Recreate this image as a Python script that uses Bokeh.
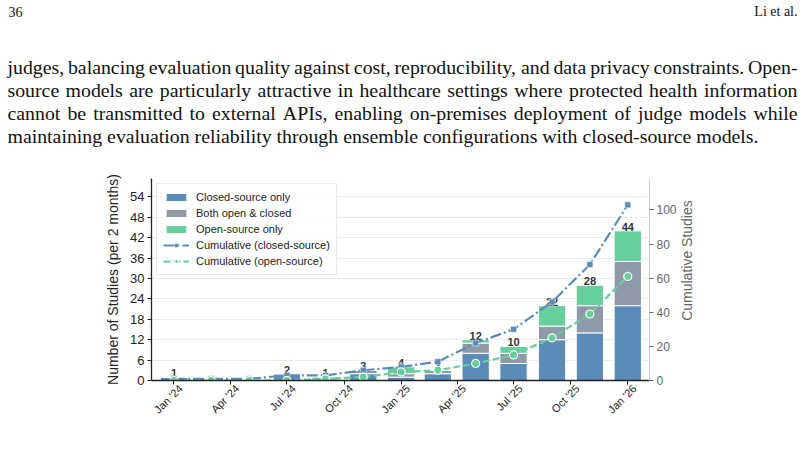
import math
import pandas as pd
from bokeh.plotting import figure
from bokeh.layouts import column, row
from bokeh.models import (ColumnDataSource, Range1d, LinearAxis,
                          FixedTicker, DatetimeTickFormatter)
from bokeh.core.properties import value
from bokeh.embed import file_html
from bokeh.resources import INLINE

# ---------------- data ----------------
periods = ["2024-01-01", "2024-03-01", "2024-05-01", "2024-07-01", "2024-09-01",
           "2024-11-01", "2025-01-01", "2025-03-01", "2025-05-01", "2025-07-01",
           "2025-09-01", "2025-11-01", "2026-01-01"]
closed_only = [1, 0, 0, 2, 0, 2, 1, 2, 8, 5, 12, 14, 22]
both_open_closed = [0, 0, 0, 0, 0, 1, 1, 1, 3, 3, 4, 8, 13]
open_only = [0, 0, 0, 0, 1, 0, 2, 0, 1, 2, 6, 6, 9]
cum_closed = [1, 1, 1, 3, 3, 6, 8, 11, 22, 30, 46, 68, 103]
cum_open = [0, 0, 0, 0, 1, 2, 5, 6, 10, 15, 25, 39, 61]
tick_dates = ["2024-01-01", "2024-04-01", "2024-07-01", "2024-10-01", "2025-01-01",
              "2025-04-01", "2025-07-01", "2025-10-01", "2026-01-01"]
left_ticks = [0, 6, 12, 18, 24, 30, 36, 42, 48, 54]
right_ticks = [0, 20, 40, 60, 80, 100]
series_names = ["Closed-source only", "Both open & closed", "Open-source only"]
left_title = "Number of Studies (per 2 months)"
right_title = "Cumulative Studies"

header_left = "36"
header_right = "Li et al."
paragraph_lines = [
    "judges, balancing evaluation quality against cost, reproducibility, and data privacy constraints. Open-",
    "source models are particularly attractive in healthcare settings where protected health information",
    "cannot be transmitted to external APIs, enabling on-premises deployment of judge models while",
    "maintaining evaluation reliability through ensemble configurations with closed-source models.",
]

# ---------------- styles / layout ----------------
C_BLUE = "#5b8cb8"
C_GRAY = "#8e9aa8"
C_GREEN = "#67cf9c"
SANS = "Liberation Sans"
SERIF = "Liberation Serif"

W, H = 805, 453
TOP_H = 160                    # page text band
CH_W = 680                     # chart figure width
FL, FR, FT, FB = 151, 649, 178, 380   # chart frame edges (page px)

DAY = 86400000.0
LABEL_SHIFT = 11 * DAY         # centre the rotated tick labels on their ticks
dates = pd.to_datetime(periods)
t_first = pd.Timestamp("2024-01-01").value / 1e6
t_last = pd.Timestamp("2026-01-01").value / 1e6
X0 = t_first - 36.2 * DAY
X1 = t_last + 35.0 * DAY
Y0, Y1 = 0.0, 59.4
RY1 = 118.45

totals = [a + b + c for a, b, c in zip(closed_only, both_open_closed, open_only)]

src = ColumnDataSource(dict(x=dates, closed=closed_only, both=both_open_closed,
                            open=open_only, cc=cum_closed, co=cum_open))
lab = ColumnDataSource(dict(x=[d for d, t in zip(dates, totals) if t > 0],
                            y=[t for t in totals if t > 0],
                            t=[str(t) for t in totals if t > 0]))

# ---------------- chart ----------------
p = figure(width=CH_W, height=H - TOP_H, output_backend="svg", toolbar_location=None,
           x_axis_type="datetime", x_range=Range1d(X0, X1), y_range=Range1d(Y0, Y1),
           min_border_left=FL, min_border_right=CH_W - FR, min_border_top=FT - TOP_H,
           min_border_bottom=H - FB, outline_line_color=None,
           background_fill_color="white", border_fill_color="white")
p.extra_y_ranges = {"cum": Range1d(0, RY1)}

p.vbar_stack(["closed", "both", "open"], x="x", width=44 * DAY, source=src,
             color=[C_BLUE, C_GRAY, C_GREEN], line_color="white", line_width=1,
             legend_label=series_names)

p.text(x="x", y="y", text="t", source=lab, text_align="center",
       text_baseline="alphabetic", y_offset=-4, text_font=value(SANS),
       text_font_size="11px", text_font_style="bold", text_color="#333333")

p.line(x="x", y="cc", source=src, y_range_name="cum", line_color=C_BLUE,
       line_width=2.2, line_dash="11 3 2 3", legend_label="Cumulative (closed-source)")
p.scatter(x="x", y="cc", source=src, y_range_name="cum", marker="square", size=6,
          fill_color=C_BLUE, line_color="white", line_width=0.5,
          legend_label="Cumulative (closed-source)")
p.line(x="x", y="co", source=src, y_range_name="cum", line_color=C_GREEN,
       line_width=2.2, line_dash="7 3", legend_label="Cumulative (open-source)")
p.scatter(x="x", y="co", source=src, y_range_name="cum", marker="circle", size=8,
          fill_color=C_GREEN, line_color="white", line_width=1.2,
          legend_label="Cumulative (open-source)")

tick_ms = [pd.Timestamp(t).value / 1e6 for t in tick_dates]
fmt = "%b '%y"

# x axis: tick marks at the quarter starts (minor ticks), rotated labels
# (major ticks, nudged so the rotated text is centred under each tick mark)
xa = p.xaxis[0]
xa.ticker = FixedTicker(ticks=[t + LABEL_SHIFT for t in tick_ms], minor_ticks=tick_ms)
xa.formatter = DatetimeTickFormatter(years=fmt, months=fmt, days=fmt, hours=fmt,
                                     hourmin=fmt, minutes=fmt, minsec=fmt,
                                     seconds=fmt, milliseconds=fmt,
                                     microseconds=fmt)
xa.major_label_orientation = math.pi / 4
xa.major_label_text_font = SANS
xa.major_label_text_font_size = "11px"
xa.major_label_text_color = "#222222"
xa.axis_line_color = "#222222"
xa.axis_line_width = 1.3
xa.major_tick_line_color = None
xa.major_tick_out = 0
xa.major_tick_in = 0
xa.minor_tick_line_color = "#222222"
xa.minor_tick_line_width = 1
xa.minor_tick_out = 4
xa.minor_tick_in = 0
xa.major_label_standoff = 2

ya = p.yaxis[0]
ya.ticker = FixedTicker(ticks=left_ticks)
ya.axis_label = left_title
ya.axis_label_text_font = SANS
ya.axis_label_text_font_size = "14px"
ya.axis_label_text_font_style = "normal"
ya.axis_label_text_color = "#222222"
ya.axis_label_standoff = 6
ya.major_label_text_font = SANS
ya.major_label_text_font_size = "13px"
ya.major_label_text_color = "#222222"
ya.axis_line_color = "#222222"
ya.axis_line_width = 1.3
ya.major_tick_line_color = "#222222"
ya.major_tick_out = 4
ya.major_tick_in = 0
ya.minor_tick_line_color = None
ya.major_label_standoff = 3

ra = LinearAxis(y_range_name="cum", ticker=FixedTicker(ticks=right_ticks))
ra.major_label_text_font = SANS
ra.major_label_text_font_size = "12px"
ra.major_label_text_color = "#666666"
ra.axis_line_color = "#cccccc"
ra.major_tick_line_color = "#666666"
ra.major_tick_out = 4
ra.major_tick_in = 0
ra.minor_tick_line_color = None
ra.major_label_standoff = 3
p.add_layout(ra, "right")

p.xgrid.visible = False
p.ygrid.ticker = FixedTicker(ticks=left_ticks)
p.ygrid.grid_line_color = "#ebebeb"
p.ygrid.grid_line_width = 1

lg = p.legend[0]
lg.location = "top_left"
lg.margin = 5
lg.padding = 6
lg.spacing = 2
lg.glyph_width = 26
lg.glyph_height = 10
lg.label_height = 14
lg.label_standoff = 7
lg.label_text_font = SANS
lg.label_text_font_size = "11px"
lg.label_text_color = "#222222"
lg.border_line_color = "#d5d5d5"
lg.border_line_width = 1
lg.background_fill_alpha = 0.9

# ---------------- right-axis title panel ----------------
def bare_fig(w, h, x0, x1, y_top, y_bot):
    f = figure(width=w, height=h, output_backend="svg", toolbar_location=None,
               x_range=Range1d(x0, x1), y_range=Range1d(y_bot, y_top),
               x_axis_location=None, y_axis_location=None,
               min_border=0, outline_line_color=None,
               background_fill_color="white", border_fill_color="white")
    f.xgrid.visible = False
    f.ygrid.visible = False
    return f

rp = bare_fig(W - CH_W, H - TOP_H, CH_W, W, TOP_H, H)
rp.text(x=[686], y=[(FT + FB) / 2], text=[right_title], angle=math.pi / 2,
        text_align="center", text_baseline="middle", text_font=value(SANS),
        text_font_size="14px", text_color="#666666")

# ---------------- page text panel ----------------
_lower = dict(zip("abcdefghijklmnopqrstuvwxyz",
                  [444, 500, 444, 500, 444, 333, 500, 500, 278, 278, 500, 278, 778,
                   500, 500, 500, 500, 333, 389, 278, 500, 500, 722, 500, 500, 444]))
_upper = dict(zip("ABCDEFGHIJKLMNOPQRSTUVWXYZ",
                  [722, 667, 667, 722, 611, 556, 722, 722, 333, 389, 722, 611, 889,
                   722, 722, 556, 722, 667, 556, 611, 722, 722, 944, 722, 722, 611]))
_other = {" ": 250, ",": 250, ".": 250, "-": 333, "'": 333, "(": 333, ")": 333}

def em_width(s):
    t = 0
    for ch in s:
        if ch in _lower:
            t += _lower[ch]
        elif ch in _upper:
            t += _upper[ch]
        elif ch.isdigit():
            t += 500
        else:
            t += _other.get(ch, 500)
    return t / 1000.0

TEXT_L, TEXT_R = 7, 797
MIN_GAP_EM = 0.19
fs_cands = [(778 - TEXT_L) / em_width(paragraph_lines[-1])]
for line in paragraph_lines[:-1]:
    words = line.split(" ")
    fs_cands.append((TEXT_R - TEXT_L) /
                    (sum(em_width(w) for w in words) + MIN_GAP_EM * (len(words) - 1)))
fs = min(fs_cands)
baselines = [66, 89, 112, 135]

wx, wy, wt = [], [], []
for i, line in enumerate(paragraph_lines):
    by = baselines[i]
    if i < len(paragraph_lines) - 1:
        words = line.split(" ")
        widths = [em_width(w) * fs for w in words]
        gap = (TEXT_R - TEXT_L - sum(widths)) / (len(words) - 1)
        cx = TEXT_L
        for w, ww in zip(words, widths):
            wx.append(cx); wy.append(by); wt.append(w)
            cx += ww + gap
    else:
        wx.append(TEXT_L); wy.append(by); wt.append(line)

tp = bare_fig(W, TOP_H, 0, W, 0, TOP_H)
tp.text(x=wx, y=wy, text=wt, text_align="left", text_baseline="alphabetic",
        text_font=value(SERIF), text_font_size=f"{fs:.2f}px", text_color="#111111")
tp.text(x=[8], y=[11], text=[header_left], text_align="left",
        text_baseline="alphabetic", text_font=value(SERIF), text_font_size="14px",
        text_color="#111111")
tp.text(x=[797], y=[11], text=[header_right], text_align="right",
        text_baseline="alphabetic", text_font=value(SERIF), text_font_size="14px",
        text_color="#111111")

layout = column(tp, row(p, rp, spacing=0), spacing=0)
open("out.html", "w").write(file_html(layout, INLINE))
